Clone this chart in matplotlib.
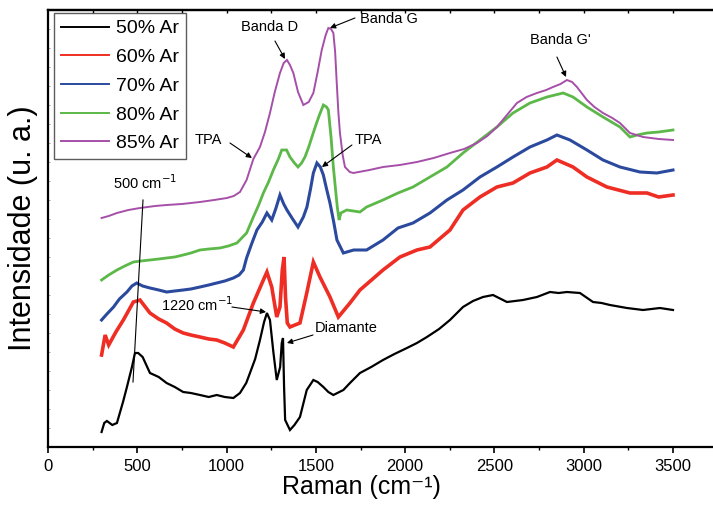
import matplotlib
matplotlib.use("Agg")
import matplotlib.pyplot as plt
import numpy as np

plt.rcParams['font.family'] = ['Liberation Sans', 'DejaVu Sans']

# ---------------- data (intensity in arbitrary units, offset traces) ----------------
black_x = [300,315,330,360,386,420,442,470,487,505,530,571,620,664,710,757,800,851,900,945,990,1038,1075,1110,1131,1160,1187,1210,1226,1243,1262,1281,1300,1309,1316,1322,1328,1355,1380,1411,1449,1486,1510,1542,1570,1598,1654,1691,1747,1810,1876,1940,2010,2066,2122,2190,2251,2324,2380,2436,2492,2570,2660,2738,2811,2860,2906,2979,3052,3100,3147,3242,3332,3427,3500]
black_y = [15,24,26,22,24,45,60,80,94,94,90,74,70,64,60,55,54,52,50,52,50,49,54,64,74,88,107,125,134,127,95,67,80,104,109,60,27,17,22,30,57,67,65,60,55,52,57,64,74,80,87,93,99,104,110,118,127,140,146,150,152,145,147,150,155,154,155,154,145,144,142,139,137,139,137]

red_x = [300,320,340,380,422,478,515,571,620,664,710,757,800,851,900,945,990,1038,1094,1150,1206,1226,1253,1281,1299,1312,1322,1330,1340,1355,1411,1449,1486,1523,1579,1626,1691,1747,1876,1971,2066,2139,2251,2324,2419,2514,2604,2699,2794,2850,2940,3018,3130,3259,3354,3420,3500]
red_y = [92,112,102,115,127,145,147,134,128,124,118,114,112,110,108,107,104,100,117,144,167,175,160,130,140,177,190,150,124,120,124,154,185,170,150,130,144,157,177,190,197,200,217,237,250,260,264,274,280,287,280,270,260,254,254,250,252]

blue_x = [300,330,367,400,442,470,497,530,571,620,664,710,757,800,851,900,945,990,1038,1070,1094,1112,1140,1170,1200,1226,1253,1275,1299,1320,1338,1370,1400,1430,1450,1470,1486,1506,1525,1542,1560,1579,1600,1618,1654,1712,1784,1876,1960,2044,2139,2234,2324,2419,2514,2604,2699,2794,2850,2923,3018,3108,3203,3315,3410,3500]
blue_y = [127,133,140,148,155,161,164,161,159,157,155,156,157,158,160,162,164,166,169,172,177,189,203,217,225,234,227,238,252,243,237,228,220,230,240,258,274,284,280,272,258,244,225,207,194,197,197,207,219,224,234,247,257,270,280,290,300,307,312,307,297,287,280,275,274,277]

green_x = [300,340,386,430,478,520,571,620,664,710,757,800,851,900,963,1010,1058,1112,1150,1180,1206,1235,1262,1290,1309,1336,1355,1380,1400,1420,1439,1460,1478,1500,1520,1542,1560,1570,1585,1598,1610,1620,1630,1640,1673,1747,1784,1876,1960,2044,2139,2234,2324,2419,2514,2604,2699,2794,2885,2940,3018,3108,3203,3259,3300,3354,3420,3500]
green_y = [167,172,177,181,185,186,187,188,189,190,192,194,197,198,199,201,204,214,230,242,254,265,277,288,297,297,290,284,280,284,290,300,310,322,332,342,340,337,310,280,258,240,227,234,237,235,240,247,254,260,270,280,294,307,320,334,344,350,354,350,340,330,320,310,312,314,315,317]

purple_x = [300,340,386,450,515,600,664,750,851,930,1002,1040,1075,1112,1150,1187,1215,1243,1270,1299,1320,1338,1355,1374,1400,1430,1460,1486,1510,1533,1555,1570,1585,1598,1608,1617,1626,1635,1650,1663,1690,1710,1800,1876,1970,2066,2160,2251,2330,2402,2460,2514,2570,2626,2680,2738,2790,2828,2870,2906,2935,2962,3018,3060,3108,3160,3203,3259,3332,3420,3500]
purple_y = [229,231,234,237,239,241,242,243,245,247,249,251,255,267,288,300,315,334,355,374,384,387,382,374,355,342,345,354,375,397,412,419,418,414,395,364,335,314,292,280,275,274,277,280,282,285,289,294,298,304,311,320,332,344,350,354,357,360,363,367,365,360,347,340,334,329,324,314,310,308,307]

labels = ['50% Ar', '60% Ar', '70% Ar', '80% Ar', '85% Ar']
colors = ['#000000', '#ee2e24', '#2b4a9e', '#5cb848', '#a64fa8']
widths = [1.6, 2.6, 2.2, 2.0, 1.4]
xticks = [0, 500, 1000, 1500, 2000, 2500, 3000, 3500]

# ---------------- figure ----------------
W, H = 713, 505
fig = plt.figure(figsize=(W / 100, H / 100), dpi=100)
ax = fig.add_axes([48 / W, 1 - 447 / H, (713 - 48) / W, 437 / H])

series = [(black_x, black_y), (red_x, red_y), (blue_x, blue_y),
          (green_x, green_y), (purple_x, purple_y)]
for (xs, ys), lab, c, lw in zip(series, labels, colors, widths):
    ax.plot(xs, ys, color=c, lw=lw, label=lab, solid_joinstyle='miter')

ax.set_xlim(0, (713 - 48) * 5.6)
ax.set_ylim(0, 437)

ax.set_xticks(xticks)
ax.set_xticklabels([str(t) for t in xticks], fontsize=12)
ax.set_xticks(np.arange(250, 3750, 500), minor=True)
ax.tick_params(axis='x', which='major', direction='out', length=4.5, width=1.2, pad=4)
ax.tick_params(axis='x', which='minor', direction='out', length=2.5, width=1.0)
ax.set_yticks(np.arange(19, 437, 19))
ax.set_yticklabels([])
ax.tick_params(axis='y', which='major', direction='in', length=1.5, width=0.6, color='#999999')

sec = ax.secondary_xaxis('top')
sec.set_xticks(np.arange(250, 3750, 250))
sec.set_xticklabels([])
sec.tick_params(direction='in', length=2.5, width=1.0)

for side in ['left', 'bottom', 'top']:
    ax.spines[side].set_linewidth(1.6)
sec.spines['top'].set_linewidth(1.6)
ax.spines['right'].set_visible(False)

ax.set_xlabel('Raman (cm\u207b\u00b9)', fontsize=18)
ax.xaxis.set_label_coords((361 - 48) / 665, (447 - 475) / 437)
ax.set_ylabel('Intensidade (u. a.)', fontsize=22)
ax.yaxis.set_label_coords((38 - 48) / 665, 0.5)

leg = ax.legend(loc='upper left', bbox_to_anchor=(0.009, 0.993), borderaxespad=0,
                fontsize=14, frameon=True, fancybox=False, edgecolor='#333333',
                handlelength=2.5, labelspacing=0.57, handletextpad=0.35,
                borderpad=0.35)
leg.get_frame().set_linewidth(1.0)
for line in leg.get_lines():
    line.set_linewidth(1.4)

# ---------------- annotations ----------------
ap = dict(arrowstyle='-|>', color='black', lw=0.8, mutation_scale=8, shrinkA=0, shrinkB=0)
fs = 10.5
ax.text(1243, 420, 'Banda D', ha='center', va='center', fontsize=fs)
ax.annotate('', xy=(1327, 388), xytext=(1271, 406), arrowprops=ap)
ax.text(1747, 428, 'Banda G', ha='left', va='center', fontsize=fs)
ax.annotate('', xy=(1579, 419), xytext=(1719, 429), arrowprops=ap)
ax.text(2867, 407, "Banda G'", ha='center', va='center', fontsize=fs)
ax.annotate('', xy=(2901, 370), xytext=(2850, 390), arrowprops=ap)
ax.text(896, 307, 'TPA', ha='center', va='center', fontsize=fs)
ax.annotate('', xy=(1142, 289), xytext=(1019, 304), arrowprops=ap)
ax.text(1792, 307, 'TPA', ha='center', va='center', fontsize=fs)
ax.annotate('', xy=(1534, 280), xytext=(1702, 302), arrowprops=ap)
ax.text(543, 264, '500 cm$^{-1}$', ha='center', va='center', fontsize=fs)
ax.plot([532, 476], [247, 65], color='black', lw=0.8)
ax.text(834, 142, '1220 cm$^{-1}$', ha='center', va='center', fontsize=fs)
ax.annotate('', xy=(1221, 135), xytext=(1030, 140), arrowprops=ap)
ax.text(1495, 119, 'Diamante', ha='left', va='center', fontsize=fs)
ax.annotate('', xy=(1338, 104), xytext=(1484, 112), arrowprops=ap)

fig.savefig('out.png', dpi=100)
